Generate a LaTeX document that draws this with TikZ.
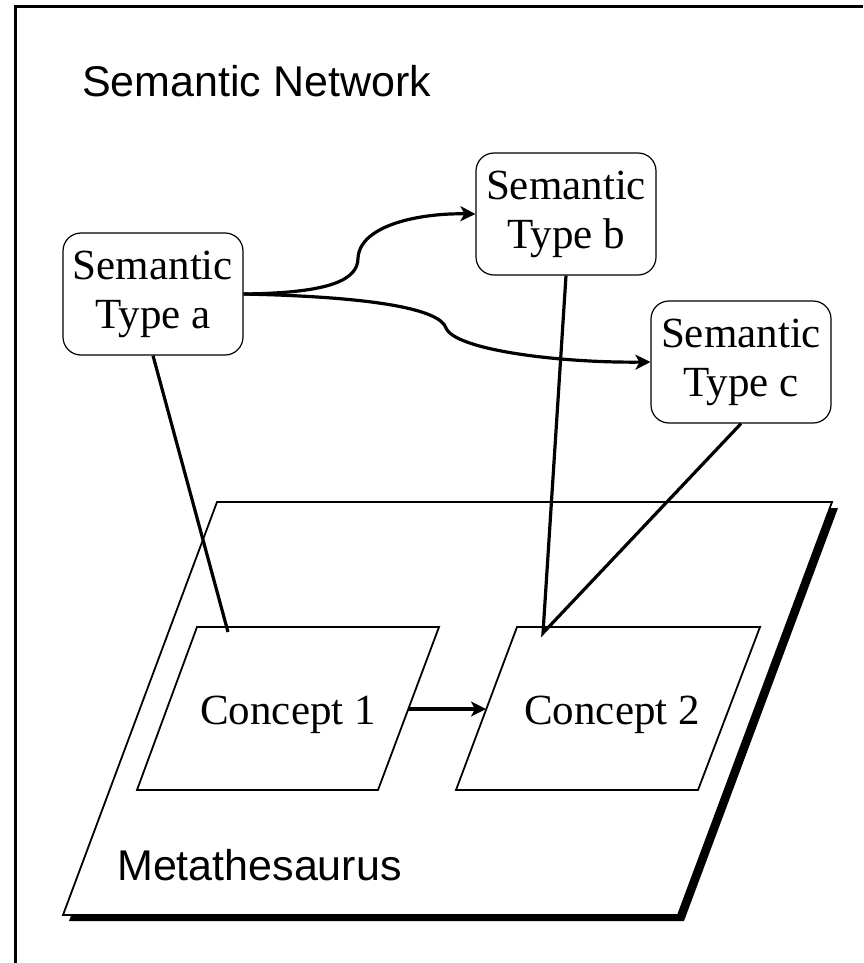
\documentclass[tikz,border=0pt]{standalone}
\usepackage{fontspec}
\setmainfont{Liberation Serif}
\setsansfont{Liberation Sans}
\usetikzlibrary{arrows.meta}
\begin{document}
\begin{tikzpicture}[x=1pt,y=-1pt,
  stbox/.style={draw, line width=1.2pt, rounded corners=18pt, minimum width=180pt, minimum height=122pt, align=center, font=\fontsize{43}{49}\selectfont, inner sep=0pt},
  concshape/.style={draw, line width=1.8pt},
  link/.style={line width=3.2pt},
  arr/.style={line width=3.2pt, -{Stealth[length=15pt,width=15pt,inset=4pt]}},
  lbl/.style={font=\sffamily\fontsize{43}{49}\selectfont, anchor=base west, inner sep=0pt},
  ctext/.style={font=\fontsize{43}{49}\selectfont, anchor=base, inner sep=0pt}]
\useasboundingbox (0,0) rectangle (863,963);
% outer frame
\draw[line width=3pt] (15,963) -- (15,7) -- (863,7);
\node[lbl] (sn) at (82,97) {Semantic Network};
% Metathesaurus plane with shadow
\fill (69,921) -- (223,508) -- (838,508) -- (684,921) -- cycle;
\draw[line width=1.8pt, fill=white] (63,915) -- (217,502) -- (832,502) -- (678,915) -- cycle;
\node[lbl] (meta) at (117,880) {Metathesaurus};
% concepts
\draw[concshape] (197,627) -- (439,627) -- (378,790) -- (137,790) -- cycle;
\draw[concshape] (517,627) -- (760,627) -- (698,790) -- (456,790) -- cycle;
\node[ctext] (c1) at (288,724) {Concept 1};
\node[ctext] (c2) at (612,724) {Concept 2};
\coordinate (c1e) at (408,709);
\coordinate (c2w) at (486,709);
\draw[arr] (c1e) -- (c2w);
% semantic types
\node[stbox] (ta) at (153,294) {Semantic\\Type a};
\node[stbox] (tb) at (566,214) {Semantic\\Type b};
\node[stbox] (tc) at (741,362) {Semantic\\Type c};
\draw[arr] (ta.east) .. controls (330,293) and (358,280) .. (358,258) .. controls (360,225) and (420,213) .. (tb.west);
\draw[arr] (ta.east) .. controls (380,297) and (440,310) .. (446,328) .. controls (455,350) and (560,363) .. (tc.west);
% links to concepts
\coordinate (p1) at (228,632);
\coordinate (p2) at (543,633);
\draw[link] (ta.south) -- (p1);
\draw[link] (tb.south) -- (p2) -- (tc.south);
\end{tikzpicture}
\end{document}
